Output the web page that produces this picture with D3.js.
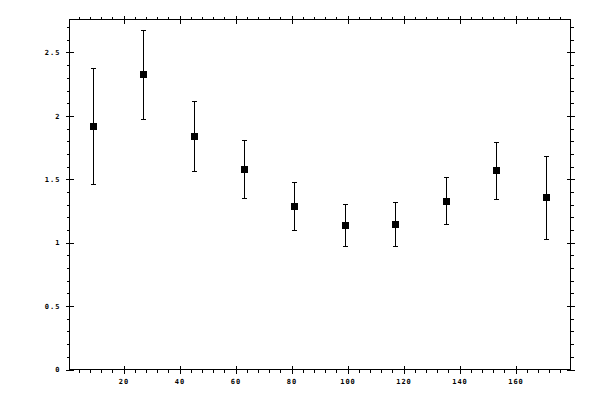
<!DOCTYPE html>
<html>
<head lang="en">
    <meta charset="UTF-8">
    <title>Error bar plot</title>
    <script src="https://cdnjs.cloudflare.com/ajax/libs/d3/7.8.5/d3.min.js" charset="utf-8"></script>
    <style>
        body { margin: 0; background: white; }
        text { font-family: "DejaVu Sans Mono", monospace; font-size: 7px; font-weight: bold; letter-spacing: 1px; }
    </style>
</head>

<body>
<div id="chart"></div>
<script>

// data
var xVals  = [9, 27, 45, 63, 81, 99, 117, 135, 153, 171];
var yVals  = [1.919, 2.330, 1.840, 1.580, 1.288, 1.137, 1.145, 1.327, 1.572, 1.359];
var yHigh  = [2.378, 2.678, 2.117, 1.809, 1.477, 1.303, 1.319, 1.517, 1.793, 1.682];
var yLow   = [1.461, 1.975, 1.564, 1.351, 1.098, 0.972, 0.972, 1.145, 1.343, 1.027];

var xMajor = [20, 40, 60, 80, 100, 120, 140, 160];
var xMinor = d3.range(4, 180, 4).filter(function(d){ return d % 20 !== 0; });
var yMajor = [0, 0.5, 1, 1.5, 2, 2.5];
var yMinor = d3.range(1, 28).map(function(d){ return d / 10; }).filter(function(d){ return Math.round(d * 10) % 5 !== 0; });

var svgWidth = 600, svgHeight = 400;
// frame edges (window.top is reserved, so keep them in an object)
var frame = {left: 69.5, right: 570.5, top: 19.5, bottom: 369.5};

var svg = d3.select('#chart').append('svg')
    .attr('width', svgWidth)
    .attr('height', svgHeight);

var x = d3.scaleLinear().domain([0.714, 179.64]).range([frame.left, frame.right]);
var y = d3.scaleLinear().domain([0, 2.76]).range([frame.bottom, frame.top]);

function fmt(d){ return String(d); }

// minor ticks, outside only
svg.append('g').attr('transform', 'translate(0,' + frame.bottom + ')')
    .call(d3.axisBottom(x).tickValues(xMinor).tickSize(3).tickFormat(''));
svg.append('g').attr('transform', 'translate(0,' + frame.top + ')')
    .call(d3.axisTop(x).tickValues(xMinor).tickSize(3).tickFormat(''));
svg.append('g').attr('transform', 'translate(' + frame.left + ',0)')
    .call(d3.axisLeft(y).tickValues(yMinor).tickSize(3).tickFormat(''));
svg.append('g').attr('transform', 'translate(' + frame.right + ',0)')
    .call(d3.axisRight(y).tickValues(yMinor).tickSize(3).tickFormat(''));

// major ticks crossing the frame
var gb = svg.append('g').attr('transform', 'translate(0,' + frame.bottom + ')')
    .call(d3.axisBottom(x).tickValues(xMajor).tickSize(4).tickPadding(6).tickFormat(fmt));
gb.selectAll('.tick line').attr('y1', -4);
var gt = svg.append('g').attr('transform', 'translate(0,' + frame.top + ')')
    .call(d3.axisTop(x).tickValues(xMajor).tickSize(4).tickFormat(''));
gt.selectAll('.tick line').attr('y1', 4);
var gl = svg.append('g').attr('transform', 'translate(' + frame.left + ',0)')
    .call(d3.axisLeft(y).tickValues(yMajor).tickSize(4).tickPadding(5).tickFormat(fmt));
gl.selectAll('.tick line').attr('x1', 4);
var gr = svg.append('g').attr('transform', 'translate(' + frame.right + ',0)')
    .call(d3.axisRight(y).tickValues(yMajor).tickSize(4).tickFormat(''));
gr.selectAll('.tick line').attr('x1', -4);

svg.selectAll('.domain').remove();
svg.selectAll('.tick line').attr('shape-rendering', 'crispEdges').attr('stroke', 'black');
svg.selectAll('.tick text').attr('fill', 'black').style('font-size', '7px').style('font-family', '"DejaVu Sans Mono", monospace');

// frame
svg.append('rect')
    .attr('x', frame.left).attr('y', frame.top)
    .attr('width', frame.right - frame.left).attr('height', frame.bottom - frame.top)
    .attr('fill', 'none').attr('stroke', 'black')
    .attr('shape-rendering', 'crispEdges');

// error bars
var pts = xVals.map(function(v, i){ return {x: v, y: yVals[i], hi: yHigh[i], lo: yLow[i]}; });
var bars = svg.append('g').attr('stroke', 'black').attr('shape-rendering', 'crispEdges');
bars.selectAll('.stem').data(pts).enter().append('line')
    .attr('x1', function(d){ return Math.round(x(d.x)) + 0.5; })
    .attr('x2', function(d){ return Math.round(x(d.x)) + 0.5; })
    .attr('y1', function(d){ return y(d.hi); })
    .attr('y2', function(d){ return y(d.lo); });
bars.selectAll('.capHi').data(pts).enter().append('line')
    .attr('x1', function(d){ return Math.round(x(d.x)) - 2; })
    .attr('x2', function(d){ return Math.round(x(d.x)) + 3; })
    .attr('y1', function(d){ return Math.round(y(d.hi)) + 0.5; })
    .attr('y2', function(d){ return Math.round(y(d.hi)) + 0.5; });
bars.selectAll('.capLo').data(pts).enter().append('line')
    .attr('x1', function(d){ return Math.round(x(d.x)) - 2; })
    .attr('x2', function(d){ return Math.round(x(d.x)) + 3; })
    .attr('y1', function(d){ return Math.round(y(d.lo)) + 0.5; })
    .attr('y2', function(d){ return Math.round(y(d.lo)) + 0.5; });

// square markers
svg.append('g').selectAll('rect').data(pts).enter().append('rect')
    .attr('x', function(d){ return Math.round(x(d.x)) - 3; })
    .attr('y', function(d){ return Math.round(y(d.y)) - 3; })
    .attr('width', 7).attr('height', 7)
    .attr('fill', 'black')
    .attr('shape-rendering', 'crispEdges');

</script>
</body>
</html>
